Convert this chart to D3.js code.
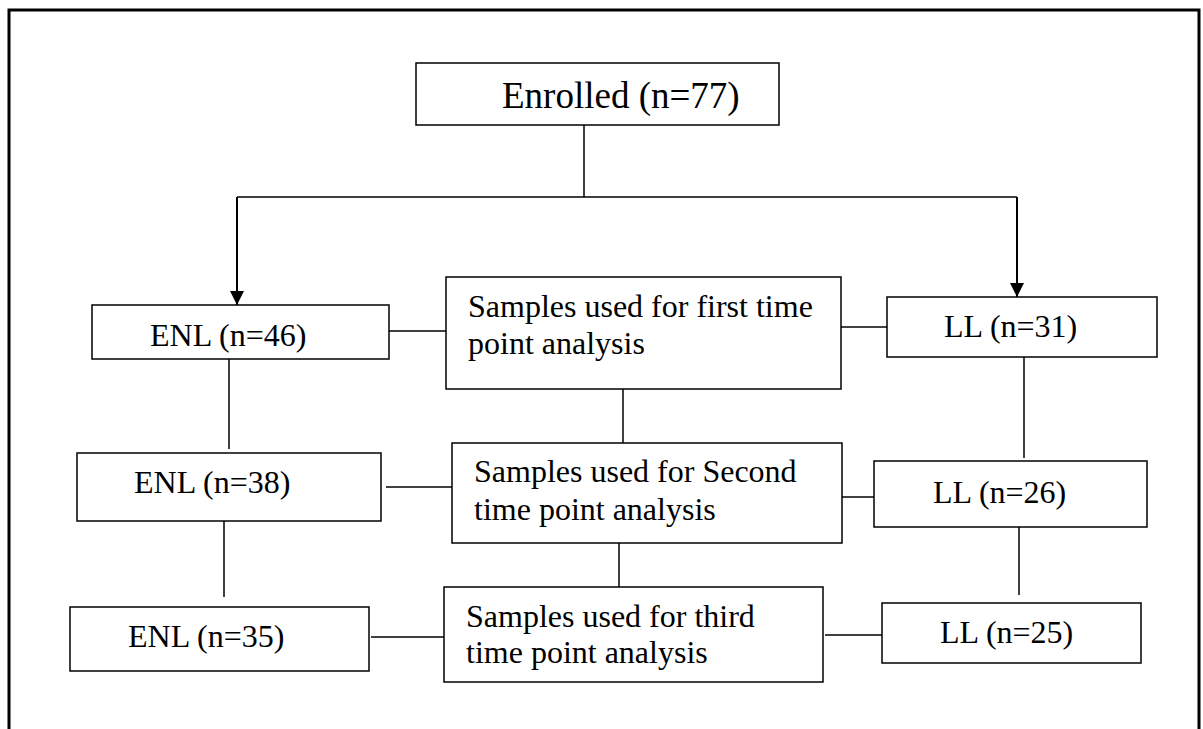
<!DOCTYPE html>
<html>
<head>
<meta charset="utf-8">
<script src="https://cdn.jsdelivr.net/npm/d3@7"></script>
<style>
  html, body { margin: 0; padding: 0; background: #fff; }
  svg { display: block; }
  text { font-family: "Liberation Serif", "Times New Roman", serif; fill: #000; }
</style>
</head>
<body>
<div id="chart"></div>
<script>
// values
const enrolled   = 77;
const groups     = ["ENL", "LL"];
const enlCounts  = [46, 38, 35];
const llCounts   = [31, 26, 25];
const timepoints = ["first", "Second", "third"];
const sampleLines = [
  ["Samples used for first time", "point analysis"],
  ["Samples used for Second", "time point analysis"],
  ["Samples used for third", "time point analysis"]
];

// layout, one entry per box: rect and where the text starts
const layout = {
  enrolled: { x: 416, y: 63,  w: 363, h: 62,  tx: 502, ty: [108], size: 37 },
  enl: [
    { x: 92,  y: 305, w: 297, h: 54,  tx: 150, ty: [346] },
    { x: 77,  y: 453, w: 304, h: 68,  tx: 134, ty: [493] },
    { x: 70,  y: 607, w: 299, h: 64,  tx: 128, ty: [647] }
  ],
  samples: [
    { x: 446, y: 277, w: 395, h: 112, tx: 468, ty: [317, 354] },
    { x: 452, y: 443, w: 390, h: 100, tx: 474, ty: [482, 520] },
    { x: 444, y: 587, w: 379, h: 95,  tx: 466, ty: [627, 663] }
  ],
  ll: [
    { x: 887, y: 297, w: 270, h: 60,  tx: 944, ty: [337] },
    { x: 874, y: 461, w: 273, h: 66,  tx: 933, ty: [503] },
    { x: 882, y: 603, w: 259, h: 60,  tx: 940, ty: [643] }
  ]
};

const width = 1203, height = 729;

const svg = d3.select("#chart")
  .append("svg")
  .attr("width", width)
  .attr("height", height);

svg.append("defs").append("marker")
  .attr("id", "arrow")
  .attr("viewBox", "0 0 10 10")
  .attr("refX", 10).attr("refY", 5)
  .attr("markerWidth", 7).attr("markerHeight", 7.5)
  .attr("markerUnits", "strokeWidth")
  .attr("orient", "auto")
  .append("path")
  .attr("d", "M0,0 L10,5 L0,10 Z")
  .attr("fill", "#000");

// outer frame (open at the bottom)
svg.append("path")
  .attr("d", `M9,${height} V10 H1199 V${height}`)
  .attr("fill", "none")
  .attr("stroke", "#000")
  .attr("stroke-width", 3);

// build the box list from the data
const boxes = [];
boxes.push({ ...layout.enrolled, lines: [`Enrolled (n=${enrolled})`] });
enlCounts.forEach((n, i) => boxes.push({ ...layout.enl[i], lines: [`${groups[0]} (n=${n})`] }));
timepoints.forEach((t, i) => boxes.push({ ...layout.samples[i], lines: sampleLines[i] }));
llCounts.forEach((n, i) => boxes.push({ ...layout.ll[i], lines: [`${groups[1]} (n=${n})`] }));

const mid = b => b.y + b.h / 2;
const E = layout.enl, S = layout.samples, L = layout.ll, R = layout.enrolled;

// connectors
const links = [
  // enrolled split
  { d: `M584,${R.y + R.h} V197`, w: 1.5 },
  { d: `M237,197 H1017`, w: 1.5 },
  // horizontal links, row by row
  { d: `M${E[0].x + E[0].w},331 H${S[0].x}`, w: 1.5 },
  { d: `M${S[0].x + S[0].w},327 H${L[0].x}`, w: 1.5 },
  { d: `M386,487 H${S[1].x}`, w: 1.5 },
  { d: `M${S[1].x + S[1].w},497 H${L[1].x}`, w: 1.5 },
  { d: `M371,637 H${S[2].x}`, w: 1.5 },
  { d: `M825,635 H${L[2].x}`, w: 1.5 },
  // vertical links between rows
  { d: `M229,${E[0].y + E[0].h} V449`, w: 1.5 },
  { d: `M224,512 V597`, w: 1.5 },
  { d: `M623,${S[0].y + S[0].h} V${S[1].y}`, w: 1.5 },
  { d: `M619,${S[1].y + S[1].h} V${S[2].y}`, w: 1.5 },
  { d: `M1024,${L[0].y + L[0].h} V458`, w: 1.5 },
  { d: `M1019,${L[1].y + L[1].h} V595`, w: 1.5 }
];

svg.append("g")
  .selectAll("path")
  .data(links)
  .join("path")
  .attr("d", d => d.d)
  .attr("fill", "none")
  .attr("stroke", "#000")
  .attr("stroke-width", d => d.w);

// arrows into the first ENL / LL boxes
svg.append("g")
  .selectAll("path")
  .data([{ x: 237, y2: E[0].y }, { x: 1017, y2: L[0].y }])
  .join("path")
  .attr("d", d => `M${d.x},197 V${d.y2}`)
  .attr("stroke", "#000")
  .attr("stroke-width", 2)
  .attr("marker-end", "url(#arrow)");

const node = svg.append("g")
  .selectAll("g")
  .data(boxes)
  .join("g");

node.append("rect")
  .attr("x", d => d.x)
  .attr("y", d => d.y)
  .attr("width", d => d.w)
  .attr("height", d => d.h)
  .attr("fill", "#fff")
  .attr("stroke", "#000")
  .attr("stroke-width", 1.5);

node.each(function(d) {
  d3.select(this).selectAll("text")
    .data(d.lines)
    .join("text")
    .attr("x", d.tx)
    .attr("y", (l, i) => d.ty[i])
    .attr("font-size", d.size || 32)
    .text(l => l);
});
</script>
</body>
</html>
